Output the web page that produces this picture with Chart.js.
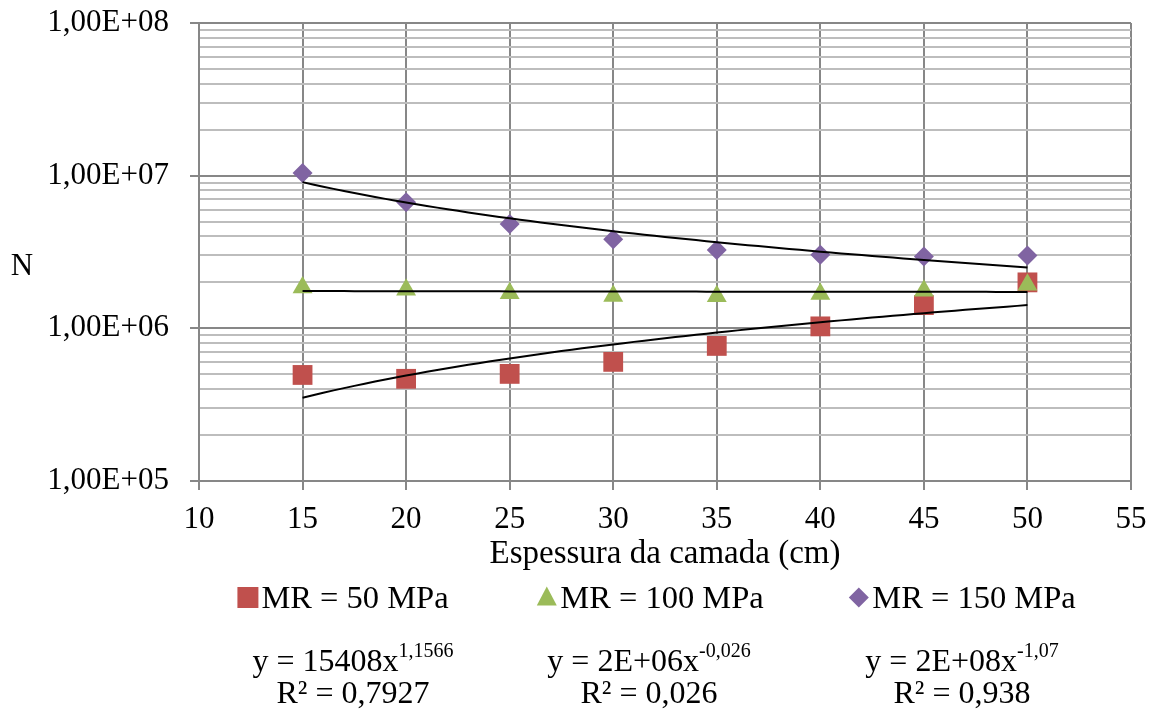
<!DOCTYPE html>
<html>
<head>
<meta charset="utf-8">
<title>N x Espessura</title>
<script src="https://cdn.jsdelivr.net/npm/chart.js@4.4.1/dist/chart.umd.min.js"></script>
<style>
  html, body { margin: 0; padding: 0; background: #fff; }
</style>
</head>
<body>
<canvas id="myChart" width="1155" height="711"></canvas>
<script>
// dados
const espessura = [15, 20, 25, 30, 35, 40, 45, 50];
const mr50 = [4.95e5, 4.67e5, 5.03e5, 6.03e5, 7.67e5, 1.03e6, 1.42e6, 2.0e6];
const mr100 = [1.85e6, 1.79e6, 1.70e6, 1.63e6, 1.62e6, 1.68e6, 1.76e6, 1.93e6];
const mr150 = [1.04e7, 6.7e6, 4.83e6, 3.83e6, 3.26e6, 3.03e6, 2.95e6, 3.0e6];

const seriesLabels = ['MR = 50 MPa', 'MR = 100 MPa', 'MR = 150 MPa'];
const seriesColors = ['#C0504D', '#9BBB59', '#8064A2'];
const equacoes = [
  ['y = 15408x', '1,1566', 'R² = 0,7927'],
  ['y = 2E+06x', '-0,026', 'R² = 0,026'],
  ['y = 2E+08x', '-1,07', 'R² = 0,938']
];
const xTicks = [10, 15, 20, 25, 30, 35, 40, 45, 50, 55];
const yDecadas = [1e5, 1e6, 1e7, 1e8];
const xTitle = 'Espessura da camada (cm)';
const yTitle = 'N';

const FONTE = '"Liberation Serif", "Times New Roman", serif';
const GRID_MAJOR = '#878787';
const GRID_MINOR = '#bdbdbd';

// linha de tendencia (potencia), ajuste em log-log como no Excel
function ajustePotencia(xs, ys) {
  const lx = xs.map(Math.log), ly = ys.map(Math.log);
  const n = xs.length;
  const mx = lx.reduce((a, b) => a + b, 0) / n;
  const my = ly.reduce((a, b) => a + b, 0) / n;
  let sxy = 0, sxx = 0;
  for (let i = 0; i < n; i++) {
    sxy += (lx[i] - mx) * (ly[i] - my);
    sxx += (lx[i] - mx) * (lx[i] - mx);
  }
  const b = sxy / sxx;
  const a = Math.exp(my - b * mx);
  return { a, b };
}

function curvaTendencia(xs, ys) {
  const f = ajustePotencia(xs, ys);
  const pts = [];
  const x0 = xs[0], x1 = xs[xs.length - 1];
  for (let k = 0; k <= 70; k++) {
    const x = x0 + (x1 - x0) * k / 70;
    pts.push({ x: x, y: f.a * Math.pow(x, f.b) });
  }
  return pts;
}

function pares(xs, ys) {
  return xs.map((x, i) => ({ x: x, y: ys[i] }));
}

function isDecada(v) {
  const e = Math.round(Math.log10(v));
  return Math.abs(v / Math.pow(10, e) - 1) < 1e-9;
}

function formatoE(v) {
  const e = Math.round(Math.log10(v));
  return '1,00E+' + (e < 10 ? '0' + e : e);
}

const todasSeries = [mr50, mr100, mr150];
const estilos = ['rect', 'triangle', 'rectRot'];
const raios = [14, 11.5, 10];

const datasets = [];
todasSeries.forEach((ys, i) => {
  datasets.push({
    type: 'line',
    label: 'tendencia ' + seriesLabels[i],
    data: curvaTendencia(espessura, ys),
    borderColor: '#000',
    borderWidth: 2,
    pointRadius: 0,
    fill: false,
    tension: 0,
    order: 0
  });
});
todasSeries.forEach((ys, i) => {
  datasets.push({
    type: 'scatter',
    label: seriesLabels[i],
    data: pares(espessura, ys),
    pointStyle: estilos[i],
    pointRadius: raios[i],
    pointHoverRadius: raios[i],
    backgroundColor: seriesColors[i],
    borderColor: seriesColors[i],
    borderWidth: 0,
    order: 3 - i
  });
});

// legenda, titulos e equacoes desenhados por baixo do grafico
const textosPlugin = {
  id: 'textos',
  afterDraw(chart) {
    const ctx = chart.ctx;
    const area = chart.chartArea;
    ctx.save();
    ctx.fillStyle = '#000';
    ctx.textBaseline = 'alphabetic';

    ctx.textAlign = 'center';
    ctx.font = '31px ' + FONTE;
    ctx.fillText(yTitle, 22, 275);
    ctx.font = '33px ' + FONTE;
    ctx.fillText(xTitle, (area.left + area.right) / 2, 563);

    const centros = [343, 650, 962];
    const legBase = 608, legMeio = 597.5;
    ctx.textAlign = 'left';
    ctx.font = '32.5px ' + FONTE;
    seriesLabels.forEach((lab, i) => {
      const tw = ctx.measureText(lab).width;
      const total = 21 + 3 + tw;
      const x0 = centros[i] - total / 2;
      const cx = x0 + 10.5;
      ctx.fillStyle = seriesColors[i];
      ctx.beginPath();
      if (i === 0) {
        ctx.rect(x0, legMeio - 10.5, 21, 21);
      } else if (i === 1) {
        ctx.moveTo(cx, legMeio - 11);
        ctx.lineTo(cx + 10, legMeio + 8);
        ctx.lineTo(cx - 10, legMeio + 8);
        ctx.closePath();
      } else {
        ctx.moveTo(cx, legMeio - 10);
        ctx.lineTo(cx + 10, legMeio);
        ctx.lineTo(cx, legMeio + 10);
        ctx.lineTo(cx - 10, legMeio);
        ctx.closePath();
      }
      ctx.fill();
      ctx.fillStyle = '#000';
      ctx.fillText(lab, x0 + 24, legBase);
    });

    const centrosEq = [353, 649, 962];
    equacoes.forEach((eq, i) => {
      ctx.font = '32px ' + FONTE;
      const w1 = ctx.measureText(eq[0]).width;
      ctx.font = '20px ' + FONTE;
      const w2 = ctx.measureText(eq[1]).width;
      const x0 = centrosEq[i] - (w1 + w2) / 2;
      ctx.textAlign = 'left';
      ctx.font = '32px ' + FONTE;
      ctx.fillText(eq[0], x0, 671);
      ctx.font = '20px ' + FONTE;
      ctx.fillText(eq[1], x0 + w1, 657);
      ctx.font = '32px ' + FONTE;
      ctx.textAlign = 'center';
      ctx.fillText(eq[2], centrosEq[i], 703);
    });
    ctx.restore();
  }
};

const ctx = document.getElementById('myChart');
new Chart(ctx, {
  type: 'scatter',
  data: { datasets: datasets },
  plugins: [textosPlugin],
  options: {
    responsive: false,
    animation: false,
    layout: { padding: { top: 23, right: 24, left: 0, bottom: 0 } },
    plugins: {
      legend: { display: false },
      tooltip: { enabled: false }
    },
    scales: {
      x: {
        type: 'linear',
        min: xTicks[0],
        max: xTicks[xTicks.length - 1],
        afterBuildTicks: (scale) => { scale.ticks = xTicks.map(v => ({ value: v })); },
        afterFit: (scale) => {
          scale.height = 230;
          scale.paddingLeft = 0;
          scale.paddingRight = 0;
        },
        ticks: {
          autoSkip: false,
          maxRotation: 0,
          padding: 11,
          color: '#000',
          font: { family: FONTE, size: 31 },
          callback: (v) => String(v)
        },
        grid: { color: GRID_MAJOR, lineWidth: 2, tickLength: 9, tickColor: GRID_MAJOR },
        border: { color: GRID_MAJOR, width: 2 }
      },
      y: {
        type: 'logarithmic',
        min: yDecadas[0],
        max: yDecadas[yDecadas.length - 1],
        afterBuildTicks: (scale) => {
          const t = [];
          for (let d = 0; d < yDecadas.length - 1; d++) {
            for (let m = 1; m <= 9; m++) t.push({ value: m * yDecadas[d] });
          }
          t.push({ value: yDecadas[yDecadas.length - 1] });
          scale.ticks = t;
        },
        afterFit: (scale) => {
          scale.width = 199;
          scale.paddingTop = 0;
          scale.paddingBottom = 0;
        },
        ticks: {
          autoSkip: false,
          padding: 21,
          color: '#000',
          font: { family: FONTE, size: 31 },
          callback: (v) => isDecada(v) ? formatoE(v) : ''
        },
        grid: {
          color: (c) => (c.tick && isDecada(c.tick.value)) ? GRID_MAJOR : GRID_MINOR,
          tickColor: (c) => (c.tick && isDecada(c.tick.value)) ? GRID_MAJOR : 'rgba(0,0,0,0)',
          lineWidth: 2,
          tickLength: 9
        },
        border: { color: GRID_MAJOR, width: 2 }
      }
    }
  }
});
</script>
</body>
</html>
